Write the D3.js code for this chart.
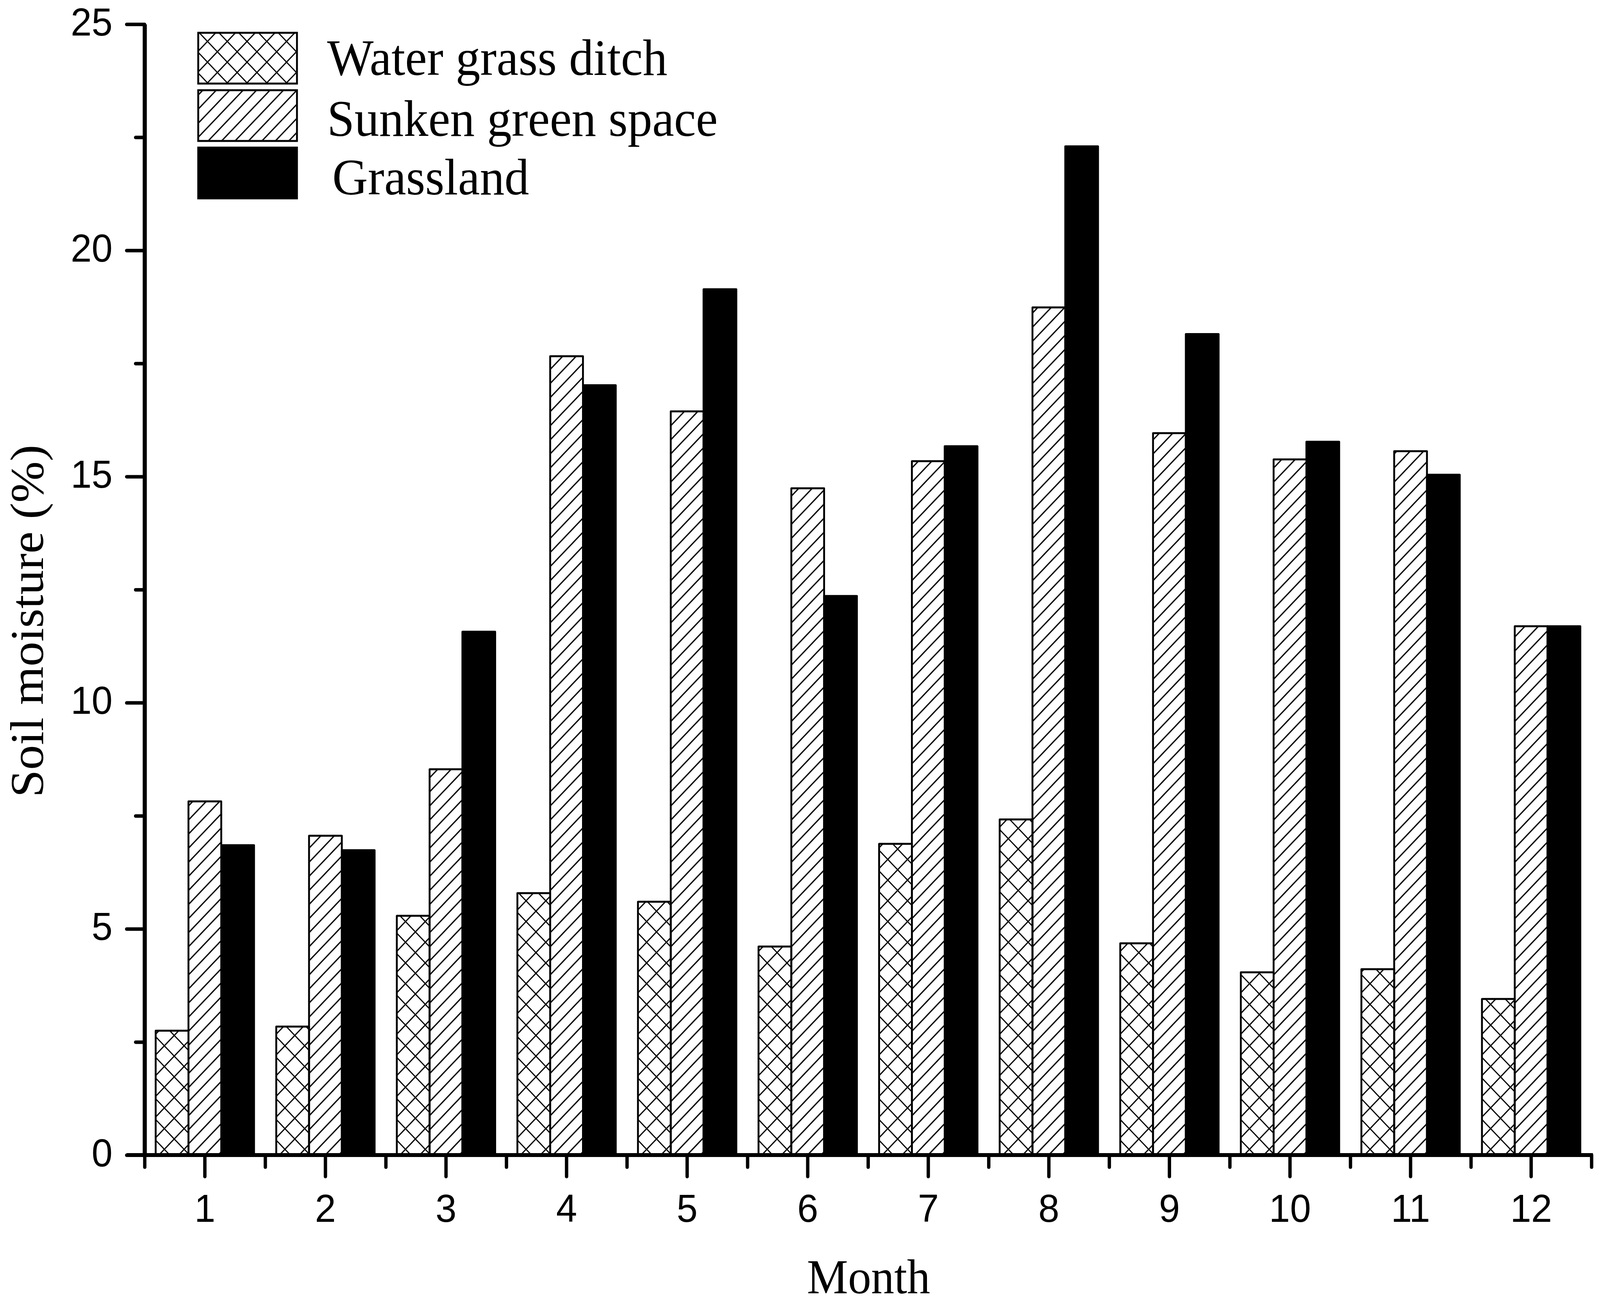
<!DOCTYPE html>
<html>
<head>
<meta charset="utf-8">
<script src="https://cdn.jsdelivr.net/npm/d3@7"></script>
<style>
html,body{margin:0;padding:0;background:#fff;overflow:hidden;width:100%;height:100%;}
svg{display:block;width:100vw;height:100vh;}
</style>
</head>
<body>
<svg id="chart" viewBox="0 0 4294 3342" preserveAspectRatio="none"></svg>
<script>
// ---------------- data ----------------
const months = ["1","2","3","4","5","6","7","8","9","10","11","12"];
const seriesNames = ["Water grass ditch", "Sunken green space", "Grassland"];
const waterGrassDitch = [2.75, 2.84, 5.29, 5.79, 5.60, 4.61, 6.88, 7.42, 4.68, 4.04, 4.11, 3.45];
const sunkenGreenSpace = [7.82, 7.06, 8.53, 17.66, 16.44, 14.74, 15.34, 18.74, 15.96, 15.38, 15.56, 11.69];
const grassland = [6.85, 6.74, 11.57, 17.02, 19.14, 12.36, 15.67, 22.30, 18.15, 15.77, 15.04, 11.69];
const yTicks = [0, 5, 10, 15, 20, 25];
const yMinorTicks = [2.5, 7.5, 12.5, 17.5, 22.5];
const yTitle = "Soil moisture (%)";
const xTitle = "Month";

const seriesValues = [waterGrassDitch, sunkenGreenSpace, grassland];
const seriesFill = ["url(#crosshatch)", "url(#hatch)", "#000"];

// ---------------- layout ----------------
const svg = d3.select("#chart");
svg.append("rect").attr("width", 4294).attr("height", 3342).attr("fill", "#fff");

const plotLeft = 388, plotRight = 4271, plotTop = 62, plotBottom = 2958;
const serif = "'Liberation Serif','Times New Roman',Times,serif";
const sans = "'Liberation Sans',Arial,Helvetica,sans-serif";

const x0 = d3.scaleBand().domain(months).range([plotLeft, plotRight]).padding(0);
const groupW = 264;
const x1 = d3.scaleBand().domain(seriesNames)
  .range([(x0.bandwidth() - groupW) / 2, (x0.bandwidth() + groupW) / 2]).padding(0);
const y = d3.scaleLinear().domain([0, 25]).range([plotBottom, plotTop]);

// ---------------- patterns ----------------
const defs = svg.append("defs");
const hp = 25.5;
const hatch = defs.append("pattern").attr("id", "hatch")
  .attr("patternUnits", "userSpaceOnUse").attr("width", hp).attr("height", hp)
  .attr("patternTransform", "rotate(45)");
hatch.append("line").attr("x1", hp / 2).attr("x2", hp / 2).attr("y1", -1).attr("y2", hp + 1)
  .attr("stroke", "#000").attr("stroke-width", 3.4);

const cp = 37.5;
const cross = defs.append("pattern").attr("id", "crosshatch")
  .attr("patternUnits", "userSpaceOnUse").attr("width", cp).attr("height", cp)
  .attr("patternTransform", "rotate(45)");
cross.append("line").attr("x1", cp / 2).attr("x2", cp / 2).attr("y1", -1).attr("y2", cp + 1)
  .attr("stroke", "#000").attr("stroke-width", 3.2);
cross.append("line").attr("y1", cp / 2).attr("y2", cp / 2).attr("x1", -1).attr("x2", cp + 1)
  .attr("stroke", "#000").attr("stroke-width", 3.2);

// ---------------- bars ----------------
const groups = svg.append("g").selectAll("g").data(months).join("g")
  .attr("transform", d => `translate(${x0(d)},0)`);
groups.selectAll("rect")
  .data((m, i) => seriesNames.map((s, k) => ({ s, k, v: seriesValues[k][i] })))
  .join("rect")
  .attr("x", d => x1(d.s))
  .attr("width", x1.bandwidth())
  .attr("y", d => y(d.v))
  .attr("height", d => y(0) - y(d.v))
  .attr("fill", d => seriesFill[d.k])
  .attr("stroke", "#000")
  .attr("stroke-width", 5)
  .attr("stroke-linejoin", "round");

// ---------------- axes ----------------
function styleAxis(g, w) {
  g.selectAll("path.domain").attr("stroke", "#000").attr("stroke-width", w);
  g.selectAll(".tick line").attr("stroke", "#000").attr("stroke-width", 9).attr("stroke-linecap", "round");
}

// minor x ticks at band boundaries
const xEdge = d3.scaleLinear().domain([0, months.length]).range([plotLeft, plotRight]);
svg.append("g").attr("transform", `translate(0,${plotBottom})`)
  .call(d3.axisBottom(xEdge).tickValues(d3.range(0, months.length + 1)).tickSize(31).tickSizeOuter(0).tickFormat(""))
  .call(g => { styleAxis(g, 10); g.selectAll("path.domain").attr("d", `M${plotLeft - 48},0H${plotRight + 4}`); });

// major x ticks
const xAxis = svg.append("g").attr("transform", `translate(0,${plotBottom})`)
  .call(d3.axisBottom(x0).tickSize(55).tickSizeOuter(0))
  .call(g => { styleAxis(g, 0); g.select("path.domain").remove(); });
xAxis.selectAll(".tick text")
  .attr("y", 171).attr("dy", 0)
  .attr("font-family", sans).attr("font-size", 101).attr("fill", "#000");

// minor y ticks
svg.append("g").attr("transform", `translate(${plotLeft},0)`)
  .call(d3.axisLeft(y).tickValues(yMinorTicks).tickSize(24).tickSizeOuter(0).tickFormat(""))
  .call(g => { styleAxis(g, 11); });

// major y ticks
const yAxis = svg.append("g").attr("transform", `translate(${plotLeft},0)`)
  .call(d3.axisLeft(y).tickValues(yTicks).tickSize(48).tickSizeOuter(0).tickFormat(d3.format("d")))
  .call(g => { styleAxis(g, 0); g.select("path.domain").remove(); });
yAxis.selectAll(".tick text")
  .attr("x", -86).attr("dy", 28)
  .attr("font-family", sans).attr("font-size", 101).attr("fill", "#000");

// ---------------- titles ----------------
svg.append("text")
  .attr("transform", "translate(115,2042) rotate(-90)")
  .attr("text-anchor", "start")
  .attr("font-family", serif).attr("font-size", 127).attr("fill", "#000")
  .text(yTitle);

svg.append("text")
  .attr("x", 2331).attr("y", 3312)
  .attr("text-anchor", "middle")
  .attr("font-family", serif).attr("font-size", 124).attr("fill", "#000")
  .text(xTitle);

// ---------------- legend ----------------
const legendBoxX = 532, legendBoxW = 265, legendBoxH = 130;
const legendBoxY = [84, 231, 378];
const legendTextX = [878, 878, 892];
const legendTextY = [192, 348, 498];
const legend = svg.append("g");
seriesNames.forEach((s, k) => {
  legend.append("rect")
    .attr("x", legendBoxX).attr("y", legendBoxY[k])
    .attr("width", legendBoxW).attr("height", legendBoxH)
    .attr("fill", seriesFill[k]).attr("stroke", "#000").attr("stroke-width", 5);
  legend.append("text")
    .attr("x", legendTextX[k]).attr("y", legendTextY[k])
    .attr("font-family", serif).attr("font-size", 132).attr("fill", "#000")
    .text(s);
});
</script>
</body>
</html>
